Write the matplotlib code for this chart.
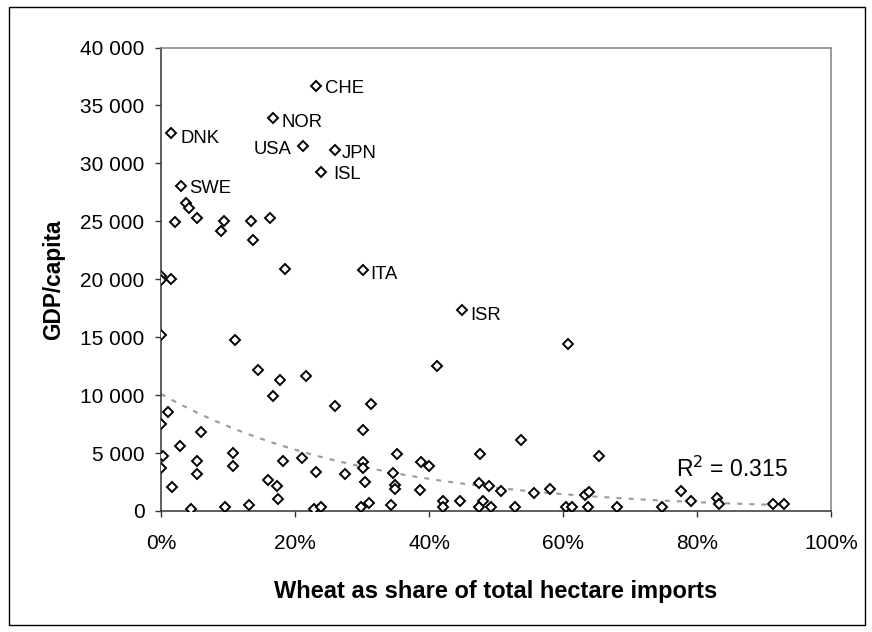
import numpy as np
import matplotlib
matplotlib.use("Agg")
import matplotlib.pyplot as plt
from matplotlib.patches import Rectangle
from matplotlib.ticker import FuncFormatter

plt.rcParams['font.family'] = ['Liberation Sans', 'DejaVu Sans']

# Wheat share of hectare imports (%) and GDP per capita for unlabelled countries
wheat_share = [
    3.8, 4.2, 2.1, 5.3, 9.4, 9.0, 13.4, 13.8, 16.2, 18.5,
    0.0, 0.0, 1.5, 0.0, 11.1, 14.5, 17.7, 21.7, 16.7, 25.9,
    31.3, 41.2, 60.7, 1.1, 0.0, 5.9, 30.1, 53.7, 2.9, 0.25,
    0.0, 5.3, 5.3, 10.7, 10.7, 1.7, 4.5, 9.5, 13.1, 16.0,
    17.3, 17.5, 18.2, 21.1, 23.2, 22.9, 23.9, 27.4, 30.1, 30.1,
    30.4, 29.8, 31.1, 34.4, 34.7, 34.9, 34.9, 35.2, 38.8, 40.0,
    38.6, 42.1, 42.1, 44.7, 47.6, 47.5, 48.1, 47.4, 48.9, 49.3,
    50.7, 52.8, 55.6, 58.0, 60.4, 61.4, 63.7, 63.3, 63.9, 65.3,
    68.1, 74.8, 77.6, 79.1, 83.0, 83.3, 91.3, 93.0,
]
gdp_per_capita = [
    26610, 26150, 24900, 25280, 25070, 24130, 25070, 23400, 25280, 20920,
    20300, 19950, 20050, 15200, 14720, 12140, 11300, 11610, 9900, 9080,
    9250, 12490, 14370, 8560, 7500, 6800, 7000, 6120, 5600, 4740,
    3720, 4300, 3200, 5000, 3900, 2050, 170, 350, 520, 2700,
    2200, 1050, 4300, 4600, 3400, 170, 350, 3170, 4200, 3700,
    2500, 350, 660, 520, 3250, 2240, 1920, 4950, 4250, 3860,
    1800, 870, 350, 870, 4950, 2400, 870, 350, 2200, 350,
    1740, 350, 1570, 1920, 350, 350, 350, 1400, 1640, 4750,
    350, 350, 1740, 870, 1120, 590, 590, 590,
]

# Labelled countries
country_codes = ["CHE", "NOR", "DNK", "USA", "JPN", "ISL", "SWE", "ITA", "ISR"]
country_share = [23.2, 16.7, 1.5, 21.2, 25.9, 23.9, 3.0, 30.2, 44.9]
country_gdp = [36690, 33930, 32600, 31530, 31180, 29290, 28070, 20780, 17330]

# Exponential trend y = a * exp(b * share) and its fit statistic
trend_a = 10100
trend_b = -3.23
trend_r2 = 0.315

x_ticks = [0, 20, 40, 60, 80, 100]
y_ticks = [0, 5000, 10000, 15000, 20000, 25000, 30000, 35000, 40000]

# Per-label text offsets (points) and alignment
label_style = {
    "CHE": (6, -2, "left"), "NOR": (6.5, -3, "left"), "DNK": (6.5, -3.5, "left"),
    "USA": (-8, -3, "right"), "JPN": (5, -3, "left"), "ISL": (8.5, -2, "left"),
    "SWE": (6, -2, "left"), "ITA": (5, -3, "left"), "ISR": (6, -3.5, "left"),
}

fig = plt.figure(figsize=(8.72, 6.32), dpi=100)
ax = fig.add_axes([161 / 872, 1 - 511 / 632, 670 / 872, 463.5 / 632])

# Outer chart border
fig.patches.append(Rectangle((9 / 872, 7 / 632), 856 / 872, 618 / 632,
                             transform=fig.transFigure, fill=False,
                             edgecolor="black", linewidth=1.0))

marker_kw = dict(marker="D", linestyle="none", markersize=4.9,
                 markerfacecolor="white", markeredgecolor="black",
                 markeredgewidth=1.4)

all_x = np.array(wheat_share + country_share, dtype=float)
ax.plot(wheat_share, gdp_per_capita, zorder=3, **marker_kw)
ax.plot(country_share, country_gdp, zorder=3, **marker_kw)

for code, sx, gy in zip(country_codes, country_share, country_gdp):
    dx, dy, ha = label_style[code]
    ax.annotate(code, (sx, gy), xytext=(dx, dy), textcoords="offset points",
                ha=ha, va="center", fontsize=13.3)

# Trend line across the observed share range
tx = np.linspace(0, all_x.max(), 200)
ty = trend_a * np.exp(trend_b * tx / 100)
ax.plot(tx, ty, color="#9a9a9a", linewidth=1.5, dashes=(2.4, 3.4), zorder=2)

ax.text(76.8, 3600, f"R$^2$ = {trend_r2:.3f}", fontsize=16.5, ha="left", va="center")

ax.set_xlim(0, 100)
ax.set_ylim(0, 40000)
ax.set_xticks(x_ticks)
ax.set_yticks(y_ticks)
ax.xaxis.set_major_formatter(FuncFormatter(lambda v, p: f"{v:.0f}%"))
ax.yaxis.set_major_formatter(FuncFormatter(lambda v, p: f"{v:,.0f}".replace(",", " ")))

ax.tick_params(axis="both", direction="out", length=4.3, width=1.0,
               color="#333333", labelsize=15)
ax.tick_params(axis="y", pad=7.5)
ax.tick_params(axis="x", pad=12.5)

for side in ("left", "bottom"):
    ax.spines[side].set_color("#333333")
    ax.spines[side].set_linewidth(1.1)
for side in ("top", "right"):
    ax.spines[side].set_color("#808080")
    ax.spines[side].set_linewidth(1.1)

ax.set_xlabel("Wheat as share of total hectare imports", fontsize=17,
              fontweight="bold", va="center")
ax.xaxis.set_label_coords(0.5, -0.1726)
ax.set_ylabel("GDP/capita", fontsize=16.3, fontweight="bold", va="center")
ax.yaxis.set_label_coords(-0.161, 0.5)

fig.savefig("out.png", dpi=100)
